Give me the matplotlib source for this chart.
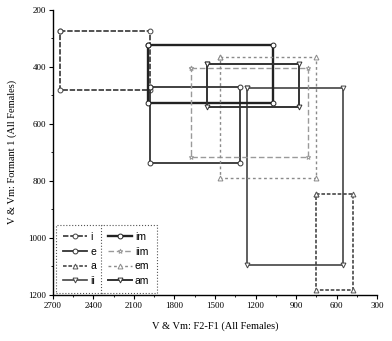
import matplotlib
matplotlib.use("Agg")
import matplotlib.pyplot as plt
from matplotlib.ticker import MultipleLocator

plt.rcParams['font.family'] = ['Liberation Serif', 'DejaVu Serif']

vowels = ["i", "e", "a", "ii", "im", "iim", "em", "am"]
f2f1_max = [2648, 1981, 752, 1263, 1996, 1678, 1463, 1559]
f2f1_min = [1981, 1315, 478, 552, 1070, 811, 752, 878]
f1_min = [274, 470, 846, 474, 323, 404, 365, 389]
f1_max = [481, 737, 1182, 1095, 526, 716, 789, 540]

colors = ["#444444", "#333333", "#555555", "#444444", "#222222", "#9a9a9a", "#8a8a8a", "#333333"]
styles = [(0, (3, 1)), "-", (0, (2, 1)), "-", "-", (0, (4, 2)), (0, (2, 2)), "-"]
markers = ["o", "o", "^", "v", "o", "*", "^", "v"]
widths = [1.3, 1.3, 1.3, 1.2, 1.7, 1.0, 1.0, 1.4]

fig = plt.figure(figsize=(3.92, 3.41), dpi=100)
ax = fig.add_axes([0.135, 0.135, 0.827, 0.836])

handles = []
for k in range(len(vowels)):
    xs = [f2f1_max[k], f2f1_min[k], f2f1_min[k], f2f1_max[k], f2f1_max[k]]
    ys = [f1_min[k], f1_min[k], f1_max[k], f1_max[k], f1_min[k]]
    h, = ax.plot(xs, ys, color=colors[k], linestyle=styles[k], linewidth=widths[k],
                 marker=markers[k], markersize=3.5, markerfacecolor="white",
                 markeredgecolor=colors[k], markeredgewidth=0.7, label=vowels[k])
    handles.append(h)

ax.set_xlim(2700, 300)
ax.set_ylim(1200, 200)
ax.xaxis.set_major_locator(MultipleLocator(300))
ax.xaxis.set_minor_locator(MultipleLocator(150))
ax.yaxis.set_major_locator(MultipleLocator(200))
ax.yaxis.set_minor_locator(MultipleLocator(100))
for s in ["top", "right"]:
    ax.spines[s].set_visible(False)
for s in ["left", "bottom"]:
    ax.spines[s].set_linewidth(1.0)
ax.tick_params(which="major", direction="out", length=3, width=0.8, labelsize=6.5, pad=2)
ax.tick_params(which="minor", direction="out", length=1.5, width=0.6)

ax.set_xlabel("V & Vm: F2-F1 (All Females)", fontsize=7.5, labelpad=8)
ax.set_ylabel("V & Vm: Formant 1 (All Females)", fontsize=7.5, labelpad=8)

common = dict(prop={"family": "Liberation Sans", "size": 7.5},
              handlelength=2.3, handletextpad=0.3, labelspacing=0.45,
              borderpad=0.7, fancybox=False, edgecolor="#555555", framealpha=1,
              borderaxespad=0.15)
leg1 = ax.legend(handles=handles[:4], loc="lower left", bbox_to_anchor=(0.005, 0.0), **common)
leg1.get_frame().set_linestyle(":")
leg1.get_frame().set_linewidth(0.8)
ax.add_artist(leg1)
leg2 = ax.legend(handles=handles[4:], loc="lower left", bbox_to_anchor=(0.142, 0.0), **common)
leg2.get_frame().set_linestyle(":")
leg2.get_frame().set_linewidth(0.8)

fig.savefig("out.png", dpi=100)
